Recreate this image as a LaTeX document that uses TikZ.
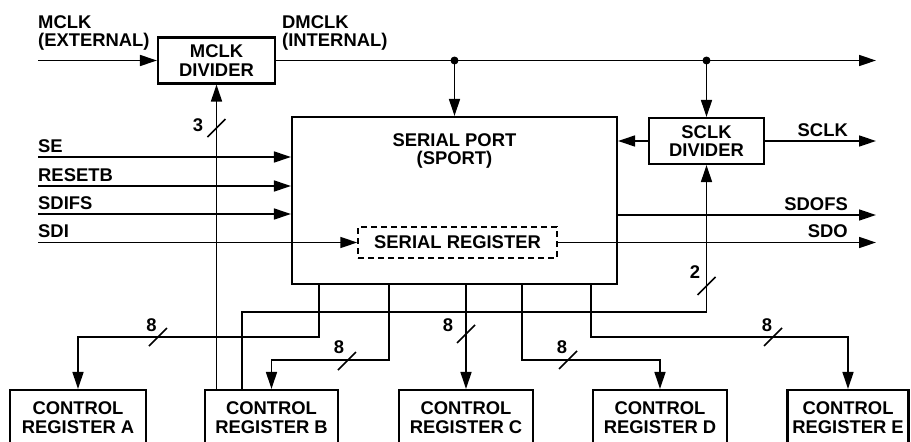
\documentclass[tikz,border=0pt]{standalone}
\usepackage{fontspec}
\setmainfont{Liberation Sans}
\usetikzlibrary{calc,arrows.meta}
\def\busslash(#1){\draw[line width=1.5pt] ($(#1)+(-9,9)$) -- ($(#1)+(9,-9)$);}

\tikzset{
	blk/.style={draw, line width=2.1pt, inner sep=0pt, align=center},
	sig/.style={line width=1.5pt},
	arr/.style={sig, -{Triangle[length=17pt,width=11pt]}},
	lbl/.style={inner sep=0pt, align=left},
}

\begin{document}
\begin{tikzpicture}[x=1pt, y=-1pt, font=\fontsize{18.4}{18.8}\selectfont\bfseries]
		%%%%% START %%%%%
		\useasboundingbox (0,0) rectangle (911,442);
		
		\node[blk, minimum width=117pt, minimum height=46pt] (mclkdiv) at (216.5,60.5) {MCLK\\DIVIDER};
		\node[blk, minimum width=325pt, minimum height=167pt] (sport) at (454.5,200.5) {};
		\node[lbl, align=center] (sporttxt) at (454.5,151) {SERIAL PORT\\(SPORT)};
		\node[blk, minimum width=115pt, minimum height=46pt] (sclkdiv) at (706.5,141) {SCLK\\DIVIDER};
		\node[blk, line width=1.5pt, dash pattern=on 6pt off 4pt, minimum width=199pt, minimum height=31pt] (serreg) at (457.5,242.5) {SERIAL REGISTER};
		
		\foreach \reg/\x/\w/\id in {cra/78/136/A, crb/271.5/133/B, crc/466/134/C, crd/660/134/D, cre/848/121/E}
			\node[blk, minimum width=\w pt, minimum height=56pt] (\reg) at (\x,418) {CONTROL\\REGISTER \id};
		
		% clock path
		\coordinate (mclkin) at (38,60.5);
		\coordinate (dmclkout) at (876,60.5);
		\coordinate (dotport) at (sport.north |- mclkin);
		\coordinate (dotsclk) at (sclkdiv.north |- mclkin);
		\draw[arr] (mclkin) -- (mclkdiv.west);
		\draw[arr] (mclkdiv.east) -- (dmclkout);
		\fill (dotport) circle (4pt);
		\fill (dotsclk) circle (4pt);
		\draw[arr] (dotport) -- (sport.north);
		\draw[arr] (dotsclk) -- (sclkdiv.north);
		\node[lbl, anchor=north west] (lmclk) at (38,15) {MCLK\\(EXTERNAL)};
		\node[lbl, anchor=north west] (ldmclk) at (282,15) {DMCLK\\(INTERNAL)};
		
		% sclk
		\coordinate (sclkout) at (876,141);
		\draw[arr] (sclkdiv.west) -- (sclkdiv.west -| sport.east);
		\draw[arr] (sclkdiv.east) -- (sclkout);
		\node[lbl, anchor=base east] (lsclk) at (848,136) {SCLK};
		
		% inputs
		\foreach \sname/\y in {SE/157, RESETB/186, SDIFS/214} {
			\coordinate (in\sname) at (38,\y);
			\draw[arr] (in\sname) -- (in\sname -| sport.west);
			\node[lbl, anchor=base west] (l\sname) at ($(in\sname)+(0,-5)$) {\sname};
		}
		\coordinate (inSDI) at (38,242.5);
		\draw[arr] (inSDI) -- (serreg.west);
		\node[lbl, anchor=base west] (lSDI) at ($(inSDI)+(0,-5)$) {SDI};
		
		% outputs
		\coordinate (outSDOFS) at (876,215);
		\coordinate (outSDO) at (876,242.5);
		\draw[arr] (outSDOFS -| sport.east) -- (outSDOFS);
		\draw[arr] (serreg.east) -- (outSDO);
		\node[lbl, anchor=base east] (lSDOFS) at (848,210) {SDOFS};
		\node[lbl, anchor=base east] (lSDO) at (848,237.5) {SDO};
		
		% control buses
		\draw[arr] (mclkdiv.south |- crb.north) -- (mclkdiv.south);
		\busslash(216.5,128)
		\node (n3) at (198,125) {3};
		
		\coordinate (b2) at ($(crb.north west)+(38,0)$);
		\coordinate (b2c) at (sclkdiv.south |- 0,312);
		\draw[arr] (b2) |- (b2c) -- (sclkdiv.south);
		\busslash(706.5,286)
		\node (n2) at (695,272.5) {2};
		
		\foreach \reg/\px/\py in {cra/319/337, crb/389/360, crd/522/360, cre/591/337} {
			\coordinate (p\reg) at (\px,0 |- sport.south);
			\draw[arr] (p\reg) |- (\reg.north |- 0,\py) -- (\reg.north);
		}
		\draw[arr] (crc.north |- sport.south) -- (crc.north);
		
		\foreach \tx/\ty/\lx/\ly in {158/337/151.5/325.5, 347/361/339/347, 466/334/448/325, 568/360/562/347, 773/337/767/325} {
			\busslash(\tx,\ty)
			\node at (\lx,\ly) {8};
		}
		%%%%% END %%%%%
\end{tikzpicture}
\end{document}
